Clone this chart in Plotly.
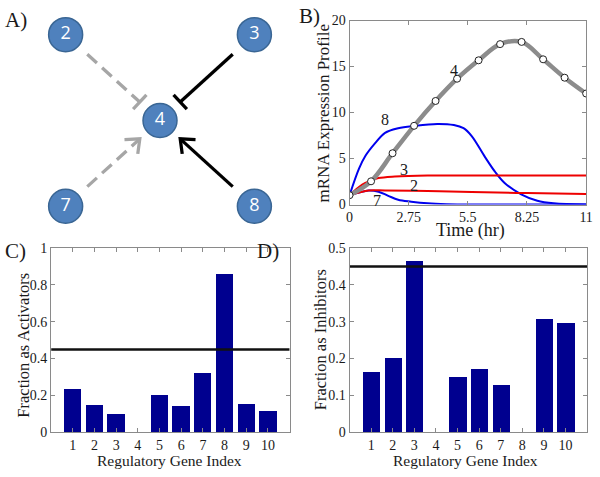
import math
import plotly.graph_objects as go

# ---------------- data ----------------
# Panel A: network
node_ids = ["2", "3", "4", "7", "8"]
node_col = [-1, 1, 0, -1, 1]
node_row = [1, 1, 0, -1, -1]
edge_src = ["2", "3", "7", "8"]
edge_dst = ["4", "4", "4", "4"]
edge_kind = ["inhibit", "inhibit", "activate", "activate"]
edge_strong = [False, True, False, True]

# Panel B: expression profiles
hours = [0, 1, 2, 3, 4, 5, 6, 7, 8, 9, 10, 11]
gene4 = [1.02, 2.53, 5.58, 8.56, 11.26, 13.68, 15.68, 17.44, 17.68, 15.79, 13.79, 12.07]
gene8_t = [0, 0.44, 0.74, 1.2, 1.65, 2.26, 3.02, 4.08, 4.85, 5.3, 5.68, 6.3, 6.76, 7.21, 7.98, 8.73, 9.49, 11]
gene8_v = [1.0, 3.9, 5.3, 6.7, 7.8, 8.3, 8.56, 8.77, 8.65, 8.3, 7.44, 5.16, 3.58, 2.35, 1.12, 0.42, 0.14, 0.0]
gene3_t = [0, 0.59, 1.05, 1.35, 2.11, 3.63, 5.5, 8.25, 11]
gene3_v = [1.0, 2.18, 2.63, 2.88, 3.05, 3.16, 3.16, 3.16, 3.16]
gene2_t = [0, 0.44, 0.89, 1.65, 3.63, 5.68, 8.25, 11]
gene2_v = [1.0, 1.3, 1.54, 1.54, 1.47, 1.37, 1.25, 1.15]
gene7_t = [0, 0.44, 0.89, 1.35, 1.8, 2.26, 2.87, 3.63, 4.5, 6, 11]
gene7_v = [1.0, 1.3, 1.54, 1.4, 0.95, 0.53, 0.32, 0.14, 0.05, 0.01, 0.0]
time_ticks = [0, 2.75, 5.5, 8.25, 11]
time_tick_text = ["0", "2.75", "5.5", "8.25", "11"]
curve_labels = ["8", "4", "3", "2", "7"]
curve_label_t = [1.65, 4.85, 2.52, 3.0, 1.27]
curve_label_v = [9.2, 14.55, 3.84, 2.1, 0.42]

# Panels C, D: fractions
gene_index = [1, 2, 3, 4, 5, 6, 7, 8, 9, 10]
frac_activators = [0.236, 0.147, 0.099, 0.0, 0.203, 0.140, 0.323, 0.860, 0.153, 0.114]
frac_inhibitors = [0.163, 0.202, 0.466, 0.0, 0.149, 0.170, 0.127, 0.0, 0.308, 0.297]
threshold = 0.45

# ---------------- layout helpers ----------------
W, H = 600, 477
SERIF = "Liberation Serif"
AXCOL = "#8a8a8a"
TXT = "#1a1a1a"


def dom_x(a, b):
    return [a / W, b / W]


def dom_y(top, bottom):
    return [1 - bottom / H, 1 - top / H]


fig = go.Figure()

# ---------------- Panel A ----------------
A_px_x = (0, 300)
A_px_y = (0, 232)
A_rx = [-1.653, 1.4675]
A_ry = [-1.296, 1.322]


def to_px(x, y):
    px = A_px_x[0] + (x - A_rx[0]) / (A_rx[1] - A_rx[0]) * (A_px_x[1] - A_px_x[0])
    py = A_px_y[1] - (y - A_ry[0]) / (A_ry[1] - A_ry[0]) * (A_px_y[1] - A_px_y[0])
    return px, py


def from_px(px, py):
    x = A_rx[0] + (px - A_px_x[0]) / (A_px_x[1] - A_px_x[0]) * (A_rx[1] - A_rx[0])
    y = A_ry[0] + (A_px_y[1] - py) / (A_px_y[1] - A_px_y[0]) * (A_ry[1] - A_ry[0])
    return x, y


pos = {n: (c, r) for n, c, r in zip(node_ids, node_col, node_row)}

for s, d, kind, strong in zip(edge_src, edge_dst, edge_kind, edge_strong):
    sx, sy = to_px(*pos[s])
    dx, dy = to_px(*pos[d])
    L = math.hypot(dx - sx, dy - sy)
    ux, uy = (dx - sx) / L, (dy - sy) / L
    nx, ny = -uy, ux
    st = (sx + ux * 30, sy + uy * 30)
    en = (dx - ux * 28, dy - uy * 28)
    col = "#000000" if strong else "#a6a6a6"
    dash = "solid" if strong else "13px,7px"
    p1 = from_px(*st)
    p2 = from_px(*en)
    fig.add_trace(go.Scatter(x=[p1[0], p2[0]], y=[p1[1], p2[1]], mode="lines",
                             line=dict(color=col, width=3.3, dash=dash),
                             xaxis="x4", yaxis="y4", showlegend=False, hoverinfo="skip"))
    if kind == "inhibit":
        a = from_px(en[0] + nx * 10, en[1] + ny * 10)
        b = from_px(en[0] - nx * 10, en[1] - ny * 10)
        hx, hy = [a[0], b[0]], [a[1], b[1]]
    else:
        a = from_px(en[0] - ux * 12 + nx * 10, en[1] - uy * 12 + ny * 10)
        b = from_px(en[0] - ux * 12 - nx * 10, en[1] - uy * 12 - ny * 10)
        hx, hy = [a[0], p2[0], b[0]], [a[1], p2[1], b[1]]
    fig.add_trace(go.Scatter(x=hx, y=hy, mode="lines",
                             line=dict(color=col, width=3.3),
                             xaxis="x4", yaxis="y4", showlegend=False, hoverinfo="skip"))

fig.add_trace(go.Scatter(x=node_col, y=node_row, mode="markers+text", text=node_ids,
                         textposition="middle center",
                         textfont=dict(family="Open Sans", size=18, color="white"),
                         marker=dict(size=34, color="#4f81bd", line=dict(color="#3a6694", width=1.5)),
                         xaxis="x4", yaxis="y4", showlegend=False, hoverinfo="skip"))

# ---------------- Panel B ----------------
fig.add_trace(go.Scatter(x=gene8_t, y=gene8_v, mode="lines", line=dict(color="#0000ee", width=2, shape="spline"),
                         xaxis="x", yaxis="y", showlegend=False))
fig.add_trace(go.Scatter(x=gene7_t, y=gene7_v, mode="lines", line=dict(color="#0000ee", width=2, shape="spline"),
                         xaxis="x", yaxis="y", showlegend=False))
fig.add_trace(go.Scatter(x=gene3_t, y=gene3_v, mode="lines", line=dict(color="#ee0000", width=2, shape="spline"),
                         xaxis="x", yaxis="y", showlegend=False))
fig.add_trace(go.Scatter(x=gene2_t, y=gene2_v, mode="lines", line=dict(color="#ee0000", width=2, shape="spline"),
                         xaxis="x", yaxis="y", showlegend=False))
fig.add_trace(go.Scatter(x=hours, y=gene4, mode="lines", line=dict(color="#8c8c8c", width=4.5, shape="spline"),
                         xaxis="x", yaxis="y", showlegend=False))
fig.add_trace(go.Scatter(x=hours, y=gene4, mode="markers",
                         marker=dict(size=7, color="white", line=dict(color="#222222", width=1)),
                         xaxis="x", yaxis="y", showlegend=False))

# ---------------- Panels C, D ----------------
BAR = "#00008f"
fig.add_trace(go.Bar(x=gene_index, y=frac_activators, width=0.8, marker=dict(color=BAR, line=dict(width=0)),
                     xaxis="x2", yaxis="y2", showlegend=False))
fig.add_trace(go.Bar(x=gene_index, y=frac_inhibitors, width=0.8, marker=dict(color=BAR, line=dict(width=0)),
                     xaxis="x3", yaxis="y3", showlegend=False))
for xa, ya in (("x2", "y2"), ("x3", "y3")):
    fig.add_trace(go.Scatter(x=[0, 11], y=[threshold, threshold], mode="lines",
                             line=dict(color="#111111", width=2.5),
                             xaxis=xa, yaxis=ya, showlegend=False))

# ---------------- axes ----------------
common = dict(showline=True, linecolor=AXCOL, linewidth=1, mirror="ticks", ticks="inside",
              ticklen=4, tickcolor=AXCOL, showgrid=False, zeroline=False,
              tickfont=dict(family=SERIF, size=14, color=TXT))

fig.update_layout(
    width=W, height=H, margin=dict(l=0, r=0, t=0, b=0),
    paper_bgcolor="white", plot_bgcolor="white",
    bargap=0,
    xaxis=dict(domain=dom_x(352, 593), range=[0, 11], tickvals=time_ticks,
               ticktext=time_tick_text, anchor="y", **common),
    yaxis=dict(domain=dom_y(14, 204), range=[0, 20], tickvals=[0, 5, 10, 15, 20], anchor="x", **common),
    xaxis2=dict(domain=dom_x(48, 291), range=[0, 11], tickvals=gene_index, anchor="y2", **common),
    yaxis2=dict(domain=dom_y(249, 439), range=[0, 1], tickvals=[0, 0.2, 0.4, 0.6, 0.8, 1],
                ticktext=["0", "0.2", "0.4", "0.6", "0.8", "1"], anchor="x2", **common),
    xaxis3=dict(domain=dom_x(352, 594), range=[0, 11], tickvals=gene_index, anchor="y3", **common),
    yaxis3=dict(domain=dom_y(249, 439), range=[0, 0.5], tickvals=[0, 0.1, 0.2, 0.3, 0.4, 0.5],
                ticktext=["0", "0.1", "0.2", "0.3", "0.4", "0.5"], anchor="x3", **common),
    xaxis4=dict(domain=dom_x(*A_px_x), range=A_rx, visible=False, anchor="y4"),
    yaxis4=dict(domain=dom_y(*A_px_y), range=A_ry, visible=False, anchor="x4"),
)

ann = []


def paper_text(text, x, y, size, angle=0):
    ann.append(dict(text=text, x=x / W, y=1 - y / H, xref="paper", yref="paper",
                    showarrow=False, textangle=angle, xanchor="center", yanchor="middle",
                    font=dict(family=SERIF, size=size, color=TXT)))


paper_text("A)", 12, 13, 21)
paper_text("B)", 311, 9, 21)
paper_text("C)", 12, 252, 21)
paper_text("D)", 269, 252, 21)
paper_text("mRNA Expression Profile", 326, 110, 17, -90)
paper_text("Time (hr)", 475, 231, 18)
paper_text("Fraction as Activators", 19, 349, 16.5, -90)
paper_text("Regulatory Gene Index", 169, 468, 15.5)
paper_text("Fraction as Inhibitors", 322, 344, 16.5, -90)
paper_text("Regulatory Gene Index", 470, 468, 15.5)

for lab, t, v in zip(curve_labels, curve_label_t, curve_label_v):
    ann.append(dict(text=lab, x=t, y=v, xref="x", yref="y", showarrow=False,
                    font=dict(family=SERIF, size=16, color=TXT)))

fig.update_layout(annotations=ann)
fig.write_html("out.html", config={"displayModeBar": False},
               post_script="document.body.style.margin='0px';")
